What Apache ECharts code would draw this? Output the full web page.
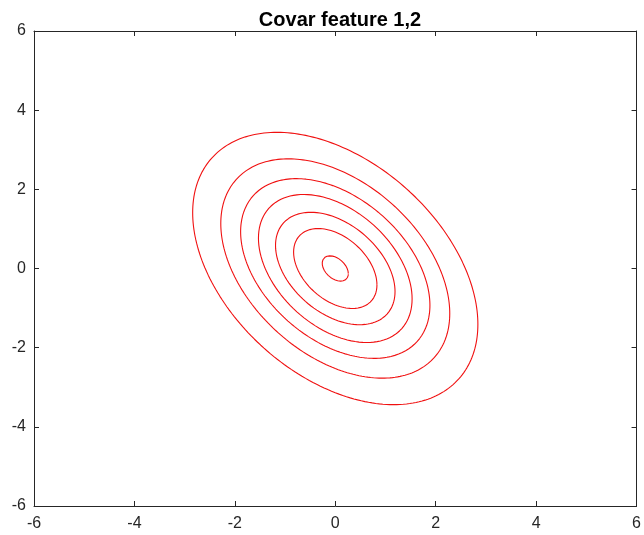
<!DOCTYPE html>
<html>
<head>
<meta charset="utf-8">
<script src="https://cdn.jsdelivr.net/npm/echarts@6/dist/echarts.min.js"></script>
<style>html,body{margin:0;padding:0;background:#fff}#c{width:644px;height:535px}</style>
</head>
<body>
<div id="c"></div>
<script>
// Contour ellipses: x half-extent and y half-extent of each contour
const contourXExtent = [2.84, 2.28, 1.885, 1.53, 1.19, 0.83, 0.26];
const contourYExtent = [3.44, 2.77, 2.27, 1.87, 1.42, 1.01, 0.32];
// correlation (tilt) of the contours, read from top-point offset
const contourCorr = -0.41;
const xTicks = [-6, -4, -2, 0, 2, 4, 6];
const yTicks = [-6, -4, -2, 0, 2, 4, 6];
const titleText = 'Covar feature 1,2';

function ellipse(X, Y, rho) {
  const pts = [];
  const s = Math.sqrt(1 - rho * rho);
  const n = 240;
  for (let i = 0; i <= n; i++) {
    const t = 2 * Math.PI * i / n;
    pts.push([X * Math.cos(t), Y * (rho * Math.cos(t) + s * Math.sin(t))]);
  }
  return pts;
}

const series = contourXExtent.map((X, i) => ({
  type: 'line',
  data: ellipse(X, contourYExtent[i], contourCorr),
  showSymbol: false,
  symbol: 'none',
  smooth: false,
  animation: false,
  lineStyle: { color: '#f01010', width: 1.1 },
  xAxisIndex: 0, yAxisIndex: 0
}));

const axCol = '#262626';
const lblFont = { fontFamily: 'Liberation Sans, Arial, sans-serif', fontSize: 16, color: '#262626' };
const chart = echarts.init(document.getElementById('c'), null, { renderer: 'canvas' });
chart.setOption({
  animation: false,
  title: {
    text: titleText, left: 335, top: 5, textAlign: 'center',
    textStyle: { fontFamily: 'Liberation Sans, Arial, sans-serif', fontWeight: 'bold', fontSize: 20, color: '#000' }
  },
  grid: { left: 34, right: 7, top: 31, bottom: 29 },
  xAxis: [
    { type: 'value', min: -6, max: 6, interval: 2, position: 'bottom',
      axisLine: { show: true, onZero: false, lineStyle: { color: axCol, width: 1 } },
      axisTick: { show: true, inside: true, length: 5, lineStyle: { color: axCol } },
      axisLabel: Object.assign({ margin: 10, formatter: v => xTicks.includes(v) ? String(v) : '' }, lblFont),
      splitLine: { show: false } },
    { type: 'value', min: -6, max: 6, interval: 2, position: 'top',
      axisLine: { show: true, onZero: false, lineStyle: { color: axCol, width: 1 } },
      axisTick: { show: true, inside: true, length: 5, lineStyle: { color: axCol } },
      axisLabel: { show: false }, splitLine: { show: false } }
  ],
  yAxis: [
    { type: 'value', min: -6, max: 6, interval: 2, position: 'left',
      axisLine: { show: true, onZero: false, lineStyle: { color: axCol, width: 1 } },
      axisTick: { show: true, inside: true, length: 5, lineStyle: { color: axCol } },
      axisLabel: Object.assign({ margin: 8, formatter: v => yTicks.includes(v) ? String(v) : '' }, lblFont),
      splitLine: { show: false } },
    { type: 'value', min: -6, max: 6, interval: 2, position: 'right',
      axisLine: { show: true, onZero: false, lineStyle: { color: axCol, width: 1 } },
      axisTick: { show: true, inside: true, length: 5, lineStyle: { color: axCol } },
      axisLabel: { show: false }, splitLine: { show: false } }
  ],
  series: series
});
</script>
</body>
</html>
